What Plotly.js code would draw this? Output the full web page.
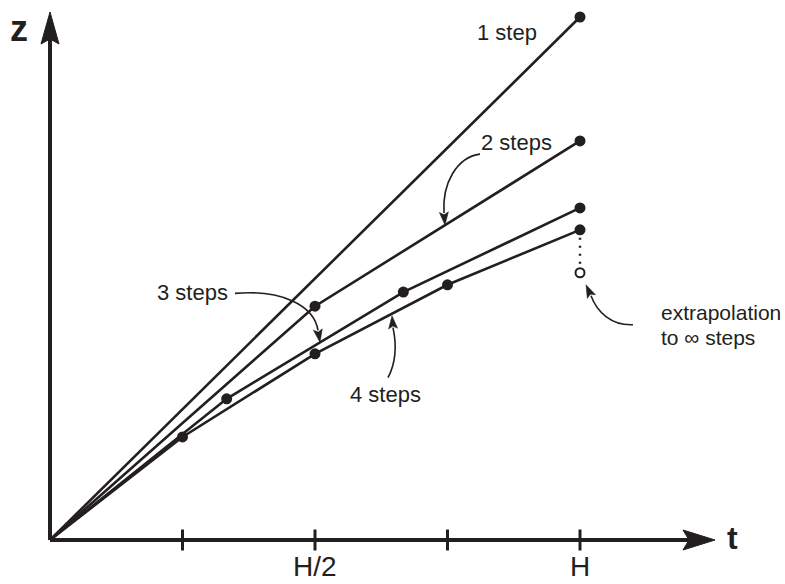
<!DOCTYPE html>
<html><head><meta charset="utf-8">
<script src="https://cdn.plot.ly/plotly-3.0.1.min.js"></script>
<style>html,body{margin:0;padding:0;background:#fff}</style>
</head><body><div id="chart" style="width:785px;height:584px"></div>
<script>
// ---- data (t in units of H, z in units of the 1-step result) ----
const tickValues = [0.25, 0.5, 0.75, 1];
const tickLabels = ['', 'H/2', '', 'H'];
const t1 = [0, 1];
const z1 = [0, 1.0];
const t2 = [0, 0.5, 1];
const z2 = [0, 0.447, 0.763];
const t3 = [0, 1/3, 2/3, 1];
const z3 = [0, 0.270, 0.474, 0.635];
const t4 = [0, 0.25, 0.5, 0.75, 1];
const z4 = [0, 0.197, 0.356, 0.488, 0.593];
const tInf = [1];
const zInf = [0.511];
const seriesLabels = ['1 step', '2 steps', '3 steps', '4 steps'];
const extrapLabel = ['extrapolation', 'to \u221e steps'];

// ---- geometry helpers ----
const W = 785, Hh = 584;
const OX = 50, OY = 540, SX = 530, SY = 523;
const X = p => (p - OX) / SX;
const Y = p => (OY - p) / SY;
const INK = '#231f20';
const FONT = 'Liberation Sans, Arial, Helvetica, sans-serif';

function interp(ts, zs, t) {
  for (let i = 0; i < ts.length - 1; i++) {
    if (t >= ts[i] && t <= ts[i + 1]) {
      const f = (t - ts[i]) / (ts[i + 1] - ts[i]);
      return zs[i] + f * (zs[i + 1] - zs[i]);
    }
  }
  return zs[zs.length - 1];
}

function seriesTrace(ts, zs, name) {
  return {
    x: ts, y: zs, name: name, mode: 'lines+markers', cliponaxis: false,
    line: {color: INK, width: 2.6},
    marker: {color: INK, opacity: 1, size: ts.map((v, i) => i === 0 ? 0 : 11), line: {color: INK, width: 0}},
    hoverinfo: 'skip'
  };
}

const traces = [
  seriesTrace(t1, z1, seriesLabels[0]),
  seriesTrace(t2, z2, seriesLabels[1]),
  seriesTrace(t3, z3, seriesLabels[2]),
  seriesTrace(t4, z4, seriesLabels[3]),
  { // dotted extrapolation
    x: [t4[t4.length - 1], tInf[0]], y: [z4[z4.length - 1], zInf[0]],
    mode: 'lines', line: {color: INK, width: 2.5, dash: '2px,6px'}, hoverinfo: 'skip'
  },
  { // extrapolated value
    x: tInf, y: zInf, mode: 'markers', cliponaxis: false,
    marker: {symbol: 'circle', size: 9, color: 'white', opacity: 1, line: {color: INK, width: 2}},
    hoverinfo: 'skip'
  },
  { // axis ticks
    x: tickValues, y: tickValues.map(() => 0), mode: 'markers', cliponaxis: false,
    marker: {symbol: 'line-ns-open', size: 15, color: INK, opacity: 1, line: {color: INK, width: 3}},
    hoverinfo: 'skip'
  }
];

// ---- axes with arrowheads ----
const xTip = X(715), yTip = Y(12);
const shapes = [
  {type: 'line', x0: 0, y0: 0, x1: X(690), y1: 0, line: {color: INK, width: 4}, layer: 'below'},
  {type: 'line', x0: 0, y0: 0, x1: 0, y1: Y(37), line: {color: INK, width: 4}, layer: 'below'},
  {type: 'path', xsizemode: 'pixel', ysizemode: 'pixel', xanchor: xTip, yanchor: 0,
   path: 'M0,0 L-32,10 L-26,0 L-32,-10 Z', fillcolor: INK, line: {color: INK, width: 1}},
  {type: 'path', xsizemode: 'pixel', ysizemode: 'pixel', xanchor: 0, yanchor: yTip,
   path: 'M0,0 L-9,-32 L0,-27 L9,-32 Z', fillcolor: INK, line: {color: INK, width: 1}}
];

// curved pointer arrows (pixel offsets relative to the tip, y up)
function pointer(ax, ay, pts, len, hw) {
  const f = p => p[0].toFixed(1) + ',' + p[1].toFixed(1);
  shapes.push({type: 'path', xsizemode: 'pixel', ysizemode: 'pixel', xanchor: ax, yanchor: ay,
    path: 'M' + f(pts[0]) + ' C' + f(pts[1]) + ' ' + f(pts[2]) + ' ' + f(pts[3]),
    fillcolor: 'rgba(0,0,0,0)', line: {color: INK, width: 1.6}});
  const p3 = pts[3];
  const L = Math.hypot(p3[0], p3[1]);
  const dx = -p3[0] / L, dy = -p3[1] / L;   // direction toward tip
  const nx = -dy, ny = dx;
  const bx = -dx * len, by = -dy * len;
  const l = [bx + nx * hw, by + ny * hw], r = [bx - nx * hw, by - ny * hw];
  const m = [-dx * len * 0.8, -dy * len * 0.8];
  shapes.push({type: 'path', xsizemode: 'pixel', ysizemode: 'pixel', xanchor: ax, yanchor: ay,
    path: 'M0,0 L' + f(l) + ' L' + f(m) + ' L' + f(r) + ' Z',
    fillcolor: INK, line: {color: INK, width: 0.5}});
}
const a2 = X(445), a3 = X(320), a4 = X(392);
pointer(a2, interp(t2, z2, a2), [[35, 71], [12, 68], [-3, 42], [-1, 12]], 13, 4.5);
pointer(a3, interp(t3, z3, a3), [[-85, 49], [-40, 53], [-6, 38], [-2, 12]], 13, 4.5);
pointer(a4, interp(t4, z4, a4) - 2 / SY, [[-4, -62], [5, -45], [4, -26], [1, -12]], 13, 4.5);
pointer(tInf[0] + 6 / SX, zInf[0] - 12 / SY, [[47, -40], [25, -41], [11, -27], [5, -11]], 13, 4.5);

// ---- text ----
function label(text, px, py, size, opts) {
  return Object.assign({x: X(px), y: Y(py), text: text, showarrow: false,
    xanchor: 'center', yanchor: 'middle', font: {family: FONT, size: size, color: INK}}, opts || {});
}
const annotations = [
  label(seriesLabels[0], 507, 32, 22),
  label(seriesLabels[1], 516, 142, 22),
  label(seriesLabels[2], 192, 292, 22),
  label(seriesLabels[3], 385, 394, 22),
  label(extrapLabel[0], 659, 312, 21, {xanchor: 'left'}),
  label(extrapLabel[1], 659, 337, 21, {xanchor: 'left'}),
  label('<b>z</b>', 19, 28, 36),
  label('<b>t</b>', 732, 538, 32),
];
tickValues.forEach((v, i) => {
  if (tickLabels[i]) annotations.push({x: v, y: Y(583), text: tickLabels[i], showarrow: false,
    xanchor: 'center', yanchor: 'bottom', borderpad: 0, font: {family: FONT, size: 28, color: INK}});
});

const layout = {
  width: W, height: Hh, margin: {l: 0, r: 0, t: 0, b: 0},
  paper_bgcolor: 'white', plot_bgcolor: 'white', showlegend: false,
  xaxis: {range: [X(0), X(W)], visible: false, fixedrange: true},
  yaxis: {range: [Y(Hh), Y(0)], visible: false, fixedrange: true},
  shapes: shapes, annotations: annotations
};
Plotly.newPlot('chart', traces, layout, {displayModeBar: false, staticPlot: true});
</script></body></html>
